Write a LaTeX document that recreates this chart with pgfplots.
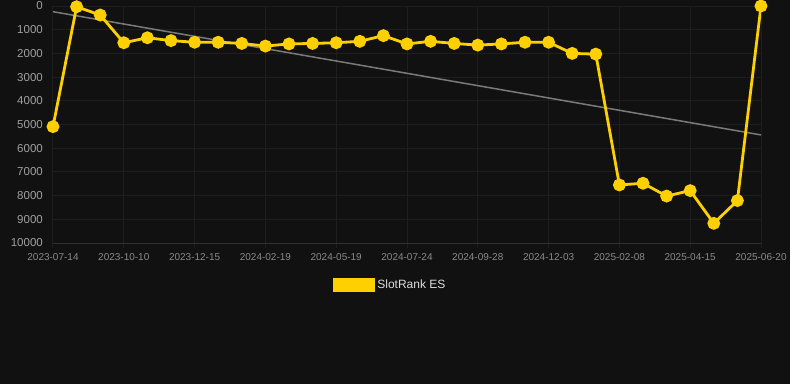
\documentclass[border=0pt]{standalone}
\usepackage{pgfplots}
\pgfplotsset{compat=1.18}
\usepackage{fontspec}
\setmainfont{Liberation Sans}
\definecolor{bg}{HTML}{111111}
\definecolor{gridc}{HTML}{1E1E1E}
\definecolor{basec}{HTML}{303030}
\definecolor{gold}{HTML}{FFD000}
\definecolor{trend}{HTML}{7A7A7A}
\definecolor{ytc}{HTML}{A0A0A0}
\definecolor{xtc}{HTML}{8A8A8A}
\definecolor{legc}{HTML}{DDDDDD}
\begin{document}
\begin{tikzpicture}
\fill[bg] (0,0) rectangle (790pt,384pt);
\begin{axis}[
  at={(53pt,141pt)}, anchor=south west,
  scale only axis, width=708pt, height=237pt,
  xmin=0, xmax=30, ymin=0, ymax=10000,
  y dir=reverse,
  scaled y ticks=false,
  axis x line*=bottom, x axis line style={draw=basec, line width=1pt},
  axis y line*=left, y axis line style={draw=none},
  xtick={0,3,...,30},
  xticklabels={2023-07-14,2023-10-10,2023-12-15,2024-02-19,2024-05-19,2024-07-24,2024-09-28,2024-12-03,2025-02-08,2025-04-15,2025-06-20},
  ytick={0,1000,...,10000},
  yticklabel style={font=\fontsize{11.5}{13}\selectfont, text=ytc, inner ysep=0pt, inner xsep=0pt, xshift=-5pt},
  xticklabel style={font=\fontsize{10}{12}\selectfont, text=xtc, inner ysep=0pt, yshift=-5pt},
  /pgf/number format/assume math mode=true,
  /pgf/number format/1000 sep={},
  grid=major, major grid style={draw=gridc, line width=1pt},
  tick align=outside, major tick length=5pt,
  xtick style={draw=gridc, line width=1pt},
  ytick style={draw=none},
  legend style={at={(0.476,-0.177)}, anchor=center, draw=none, fill=none,
    text=legc, font=\fontsize{12}{14}\selectfont, inner sep=0pt},
  legend cell align=left,
]
\addplot[trend, line width=1.5pt, forget plot] coordinates {(0,240) (30,5440)};
\addplot[gold, line width=2.8pt, mark=*, mark size=5pt, mark options={solid, fill=gold, draw=none},
  legend image code/.code={\fill[gold] (0pt,-6pt) rectangle (40pt,6pt);}]
 coordinates {
(0,5090) (1,30) (2,380) (3,1550) (4,1340) (5,1460) (6,1530) (7,1530) (8,1580) (9,1690)
(10,1600) (11,1580) (12,1550) (13,1490) (14,1250) (15,1600) (16,1490) (17,1580) (18,1650) (19,1600)
(20,1530) (21,1530) (22,2000) (23,2030) (24,7550) (25,7480) (26,8020) (27,7790) (28,9170) (29,8210)
(30,0)
};
\addlegendentry{SlotRank ES}
\end{axis}
\pgfresetboundingbox
\path (0,0) rectangle (790pt,384pt);
\end{tikzpicture}
\end{document}
